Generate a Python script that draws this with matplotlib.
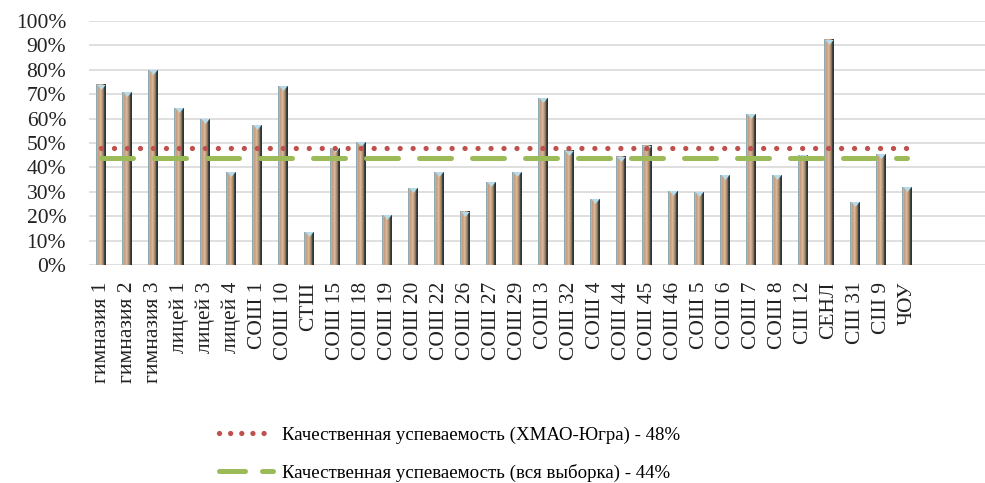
import matplotlib
matplotlib.use("Agg")
import matplotlib.pyplot as plt
from matplotlib.colors import LinearSegmentedColormap
from matplotlib.lines import Line2D
from matplotlib.path import Path
import numpy as np

categories = ["гимназия 1", "гимназия 2", "гимназия 3", "лицей 1", "лицей 3", "лицей 4",
              "СОШ 1", "СОШ 10", "СТШ", "СОШ 15", "СОШ 18", "СОШ 19", "СОШ 20", "СОШ 22",
              "СОШ 26", "СОШ 27", "СОШ 29", "СОШ 3", "СОШ 32", "СОШ 4", "СОШ 44", "СОШ 45",
              "СОШ 46", "СОШ 5", "СОШ 6", "СОШ 7", "СОШ 8", "СШ 12", "СЕНЛ", "СШ 31",
              "СШ 9", "ЧОУ"]
values = [74, 71, 80, 64.5, 60, 38, 57.5, 73.5, 13.5, 48, 50.5, 20.5, 31.5, 38,
          22, 34, 38, 68.5, 47, 27, 44.5, 49, 30.5, 30, 37, 62, 37, 45, 92.5, 26, 45.5, 32]
region_level = 48
sample_level = 44
region_label = "Качественная успеваемость (ХМАО-Югра) - 48%"
sample_label = "Качественная успеваемость (вся выборка) - 44%"
yticks = list(range(0, 101, 10))

plt.rcParams['font.family'] = ['Liberation Serif', 'DejaVu Serif']

fig = plt.figure(figsize=(9.85, 4.83), dpi=100)
ax = fig.add_axes([0.0904, 0.4513, 0.9096, 0.5052])

x = np.arange(len(categories))
cmap = LinearSegmentedColormap.from_list("cyl", [
    (0.0, "#86a0a8"), (0.14, "#a8bcc0"), (0.28, "#c29e82"), (0.48, "#d8b89c"),
    (0.66, "#a88668"), (0.8, "#4e514b"), (1.0, "#253030")])
bw = 0.40
n = 12
sw = bw / n
for i in range(n):
    ax.bar(x - bw / 2 + sw * (i + 0.5), values, width=sw * 1.02, color=cmap((i + 0.5) / n),
           linewidth=0, zorder=3)

tri = Path([(-1, 0.6), (1, 0.6), (0, -0.6), (-1, 0.6)],
           [Path.MOVETO, Path.LINETO, Path.LINETO, Path.CLOSEPOLY])
ax.scatter(x, np.array(values) - 0.9, marker=tri, s=36, color="#b4dcea", linewidths=0, zorder=4)

ax.plot([x[0], x[-1]], [region_level] * 2, color="#c0504d", lw=3.8,
        linestyle=(0, (0.01, 2.45)), dash_capstyle='round', zorder=5)
ax.plot([x[0], x[-1]], [sample_level] * 2, color="#9bbb59", lw=3.6,
        linestyle=(0, (6.4, 4.2)), dash_capstyle='round', zorder=5)

ax.set_ylim(0, 100)
ax.set_xlim(-0.46, 34.0)
ax.set_yticks(yticks)
ax.set_yticklabels([f"{t}%" for t in yticks], fontsize=15.5, color="#222222")
ax.set_xticks(x)
ax.set_xticklabels(categories, rotation=90, fontsize=15.5, color="#222222")
ax.tick_params(axis='both', length=0)
ax.tick_params(axis='y', pad=16.5)
ax.tick_params(axis='x', pad=12)
ax.grid(axis='y', color="#d9d9d9", lw=1.2, zorder=0)
for s in ax.spines.values():
    s.set_visible(False)

h1 = Line2D([], [], color="#c0504d", lw=3.8, linestyle=(0, (0.01, 2.1)), dash_capstyle='round')
h2 = Line2D([], [], color="#9bbb59", lw=3.6, linestyle=(0, (5.2, 3.4)), dash_capstyle='round')
fig.legend([h1, h2], [region_label, sample_label], loc='center', bbox_to_anchor=(0.456, 0.06),
           frameon=False, fontsize=13.6, handlelength=2.86, handletextpad=0.48, labelspacing=1.05)

fig.savefig("out.png", dpi=100)
